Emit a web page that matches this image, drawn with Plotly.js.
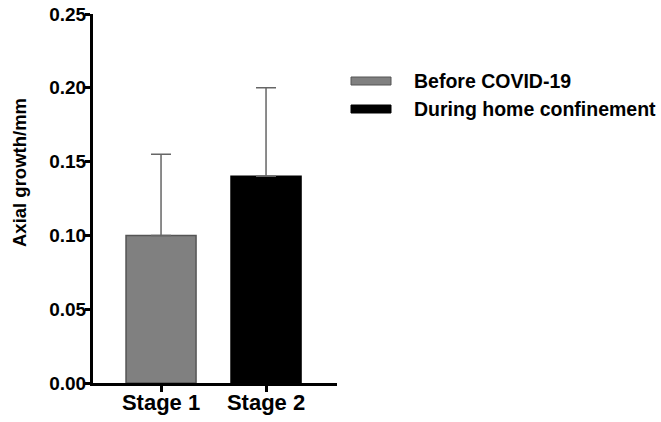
<!DOCTYPE html>
<html><head><meta charset="utf-8">
<script src="https://cdn.plot.ly/plotly-3.0.1.min.js"></script>
<style>html,body{margin:0;padding:0;background:#fff}#chart{width:661px;height:422px}</style>
</head><body><div id="chart"></div>
<script>
const categories = ['Stage 1', 'Stage 2'];
const seriesNames = ['Before COVID-19', 'During home confinement'];
const meanValues = [0.10, 0.14];
const sdValues = [0.055, 0.06];
const yTickVals = [0, 0.05, 0.10, 0.15, 0.20, 0.25];
const yTickText = ['0.00', '0.05', '0.10', '0.15', '0.20', '0.25'];
const colors = ['#808080', '#000000'];
const lineColors = ['#555555', '#000000'];

const F = 'Liberation Sans, Arial, Helvetica, sans-serif';

const traces = categories.map((c, i) => ({
  type: 'bar',
  name: seriesNames[i],
  x: [c],
  y: [meanValues[i]],
  width: 0.667,
  marker: {color: colors[i], line: {color: lineColors[i], width: 1.5}},
  error_y: {type: 'data', symmetric: false, array: [sdValues[i]], arrayminus: [0], color: '#666666', thickness: 1.5, width: 10},
  showlegend: false
}));

const plotL = 93, plotR = 337, plotT = 14, plotB = 383;
const pw = plotR - plotL, ph = plotB - plotT;
const px = x => (x - plotL) / pw;
const py = y => (plotB - y) / ph;

const shapes = [], annotations = [];
const legendRows = [[77, 85, 81], [105, 113, 109]];
seriesNames.forEach((n, i) => {
  const r = legendRows[i];
  shapes.push({type: 'rect', xref: 'paper', yref: 'paper', x0: px(351), x1: px(391), y0: py(r[1]), y1: py(r[0]),
    fillcolor: colors[i], line: {color: lineColors[i], width: 1}});
  annotations.push({xref: 'paper', yref: 'paper', x: px(412), y: py(r[2]), xanchor: 'left', yanchor: 'middle',
    text: n, showarrow: false, font: {family: F, size: 19.5, color: '#000', weight: 'bold'}});
});
annotations.push({xref: 'paper', yref: 'paper', x: px(19), y: py(173), xanchor: 'center', yanchor: 'middle',
  text: 'Axial growth/mm', textangle: -90, showarrow: false, font: {family: F, size: 18.5, color: '#000', weight: 'bold'}});

const layout = {
  width: 661, height: 422,
  margin: {l: plotL, r: 661 - plotR, t: plotT, b: 422 - plotB, pad: 0},
  paper_bgcolor: '#fff', plot_bgcolor: '#fff',
  showlegend: false,
  xaxis: {type: 'category', range: [-0.648, 1.676], showline: true, linecolor: '#000', linewidth: 3,
    ticks: 'outside', ticklen: 6, tickwidth: 3, tickcolor: '#000', showgrid: false, zeroline: false,
    ticklabelstandoff: -8,
    tickfont: {family: F, size: 22, color: '#000', weight: 'bold'}},
  yaxis: {range: [0, 0.25], tickvals: yTickVals, ticktext: yTickText, showline: true, linecolor: '#000', linewidth: 3,
    ticks: 'outside', ticklen: 5, tickwidth: 3, tickcolor: '#000', showgrid: false, zeroline: false,
    ticklabelstandoff: -5,
    tickfont: {family: F, size: 19, color: '#000', weight: 'bold'}},
  shapes: shapes,
  annotations: annotations
};

Plotly.newPlot('chart', traces, layout, {displayModeBar: false, staticPlot: true});
</script></body></html>
